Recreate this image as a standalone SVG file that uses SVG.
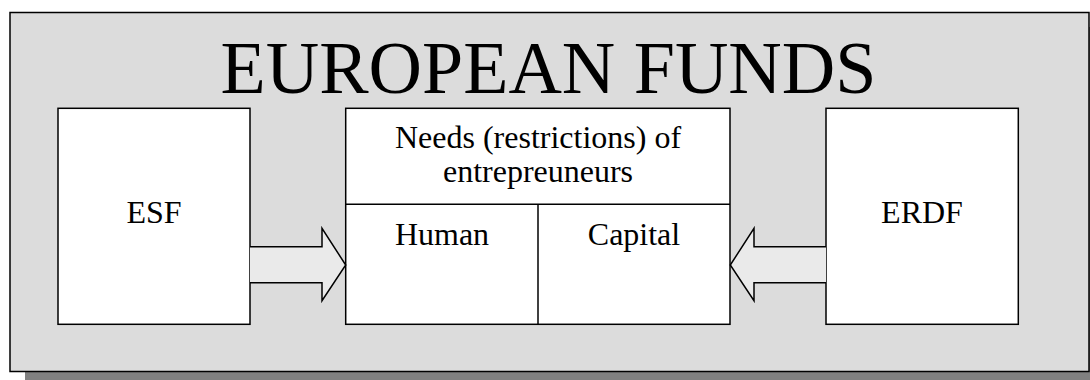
<svg xmlns="http://www.w3.org/2000/svg" width="1090" height="380" viewBox="0 0 1090 380">
  <style>
    .box { fill: #ffffff; stroke: #000000; stroke-width: 1.5; }
    .frame { fill: #dcdcdc; stroke: #000000; stroke-width: 1.5; }
    .shadow { fill: #808080; }
    .arrow { fill: #eaeaea; stroke: #000000; stroke-width: 1.5; stroke-linejoin: miter; }
    .line { stroke: #000000; stroke-width: 1.5; fill: none; }
    text { font-family: "Liberation Serif", "Times New Roman", serif; fill: #000000; text-anchor: middle; }
    .title { font-size: 74px; }
    .label { font-size: 32px; }
  </style>

  <!-- outer panel with drop shadow -->
  <g id="panel">
    <rect class="shadow" x="25" y="27" width="1080" height="360"/>
    <rect class="frame" x="10" y="12.5" width="1079" height="359"/>
    <text class="title" x="548.5" y="92.5">EUROPEAN FUNDS</text>
  </g>

  <g id="esf">
    <rect class="box" x="58" y="108.3" width="192" height="216"/>
    <text class="label" x="154" y="222.5">ESF</text>
  </g>

  <g id="needs">
    <rect class="box" x="345.7" y="108.3" width="384.3" height="216"/>
    <line class="line" x1="345.7" y1="204.3" x2="730" y2="204.3"/>
    <text class="label" x="538" y="148.3">Needs (restrictions) of</text>
    <text class="label" x="538" y="181.7">entrepreuneurs</text>
  </g>

  <g id="human">
    <line class="line" x1="538" y1="204.3" x2="538" y2="324.3"/>
    <text class="label" x="442" y="245">Human</text>
  </g>

  <g id="capital">
    <text class="label" x="634" y="245">Capital</text>
  </g>

  <g id="erdf">
    <rect class="box" x="826" y="108.3" width="192.3" height="216"/>
    <text class="label" x="922" y="222.5">ERDF</text>
  </g>

  <!-- block arrows from the funds into the needs box -->
  <g id="connectors">
    <path class="arrow" d="M250,246.7 L322,246.7 L322,228.3 L345.7,265 L322,300.7 L322,282.7 L250,282.7"/>
    <path class="arrow" d="M826,246.7 L754,246.7 L754,228.3 L730.3,265 L754,300.7 L754,282.7 L826,282.7"/>
  </g>
</svg>
